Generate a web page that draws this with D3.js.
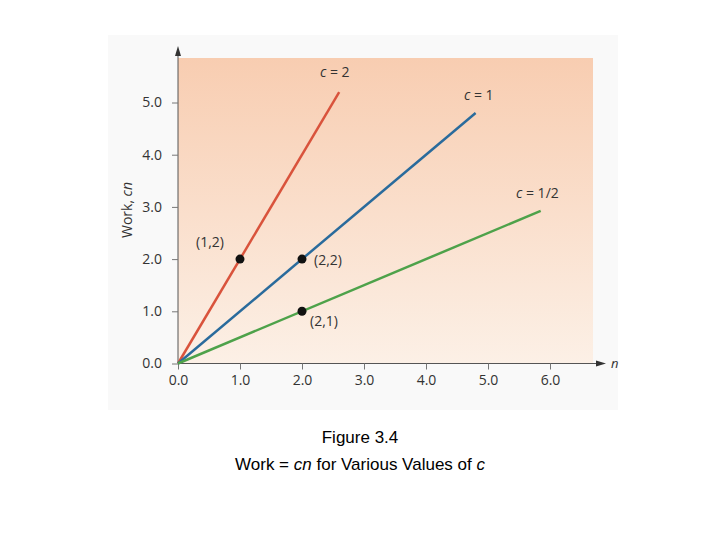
<!DOCTYPE html><html><head><script src="https://d3js.org/d3.v7.min.js"></script>
<style>body{margin:0;background:#fff}</style></head><body><script>
const xTicks=[0,1,2,3,4,5,6];
const yTicks=[0,1,2,3,4,5];
const lineNames=["c = 2","c = 1","c = 1/2"];
const slopes=[2,1,0.5];
const endN=[2.6,4.8,5.85];
const lineColors=["#d9533c","#2a6b9c","#4ea24a"];
const pts=[[1,2,"(1,2)"],[2,2,"(2,2)"],[2,1,"(2,1)"]];
const W=720,H=540;
const svg=d3.select("body").append("svg").attr("width",W).attr("height",H);
svg.append("rect").attr("x",108).attr("y",35).attr("width",510).attr("height",375).attr("fill","#f9f9f9");
const x=d3.scaleLinear().domain([0,6]).range([178,550]);
const y=d3.scaleLinear().domain([0,5]).range([363.5,102.5]);
const g=svg.append("defs").append("linearGradient").attr("id","gr").attr("x1",0).attr("y1",0).attr("x2",0).attr("y2",1);
g.append("stop").attr("offset",0).attr("stop-color","#f8cdb1");
g.append("stop").attr("offset",1).attr("stop-color","#fcf0e6");
svg.append("rect").attr("x",178).attr("y",58).attr("width",415).attr("height",305.5).attr("fill","url(#gr)");
const f="'Open Sans',sans-serif";
// axes
svg.append("line").attr("x1",178).attr("x2",598).attr("y1",y(0)).attr("y2",y(0)).attr("stroke","#555");
svg.append("path").attr("d",`M606,${y(0)} L596,${y(0)-3} L596,${y(0)+3}Z`).attr("fill","#333");
svg.append("line").attr("x1",178).attr("x2",178).attr("y1",y(0)).attr("y2",54).attr("stroke","#555");
svg.append("path").attr("d",`M178,46 L175,56 L181,56Z`).attr("fill","#333");
svg.append("text").attr("x",611).attr("y",368).attr("font-family",f).attr("font-style","italic").attr("font-size",13).attr("fill","#333").text("n");
const xa=svg.append("g").attr("transform",`translate(0,${y(0)})`).call(d3.axisBottom(x).tickValues(xTicks).tickSize(6).tickSizeOuter(0));
xa.select(".domain").remove();
xa.selectAll("line").attr("stroke","#777");
xa.selectAll("text").attr("font-family",f).attr("font-size",14).attr("fill","#333").attr("dy","0.9em");
const ya=svg.append("g").attr("transform","translate(178,0)").call(d3.axisLeft(y).tickValues(yTicks).tickSize(6).tickSizeOuter(0));
ya.select(".domain").remove();
ya.selectAll("line").attr("stroke","#777");
ya.selectAll("text").attr("font-family",f).attr("font-size",14).attr("fill","#333").attr("dx","-0.5em");
svg.append("text").attr("transform","translate(132,210) rotate(-90)").attr("text-anchor","middle").attr("font-family",f).attr("font-size",14).attr("fill","#333")
 .html("Work, <tspan font-style='italic'>cn</tspan>");
// lines
slopes.forEach((s,i)=>{
 svg.append("line").attr("x1",x(0)).attr("y1",y(0)).attr("x2",x(endN[i])).attr("y2",y(s*endN[i])).attr("stroke",lineColors[i]).attr("stroke-width",2.5);
});
const lblPos=[[320,77],[464,100],[516,198]];
lineNames.forEach((t,i)=>{
 const [a,b]=t.split(" = ");
 svg.append("text").attr("x",lblPos[i][0]).attr("y",lblPos[i][1]).attr("font-family",f).attr("font-size",14).attr("fill","#333")
  .html(`<tspan font-style='italic'>${a}</tspan> = ${b}`);
});
const ptOff=[[-44,-12],[12,6],[8,15]];
pts.forEach((p,i)=>{
 svg.append("circle").attr("cx",x(p[0])).attr("cy",y(p[1])).attr("r",4.5).attr("fill","#111");
 svg.append("text").attr("x",x(p[0])+ptOff[i][0]).attr("y",y(p[1])+ptOff[i][1]).attr("font-family",f).attr("font-size",14).attr("fill","#333").text(p[2]);
});
svg.append("text").attr("x",360).attr("y",443).attr("text-anchor","middle").attr("font-family","Arial,'Liberation Sans',sans-serif").attr("font-size",17).text("Figure 3.4");
svg.append("text").attr("x",360).attr("y",470).attr("text-anchor","middle").attr("font-family","Arial,'Liberation Sans',sans-serif").attr("font-size",17)
 .html("Work = <tspan font-style='italic'>cn</tspan> for Various Values of <tspan font-style='italic'>c</tspan>");
</script></body></html>
